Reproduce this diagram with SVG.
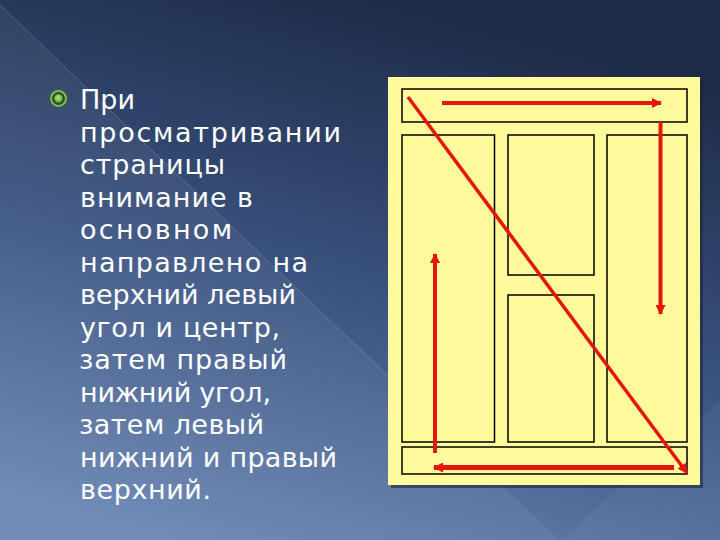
<svg xmlns="http://www.w3.org/2000/svg" width="720" height="540" viewBox="0 0 720 540">
<defs>
<linearGradient id="bg" x1="0.55" y1="0" x2="0.2" y2="1">
<stop offset="0" stop-color="#1E2B47"/>
<stop offset="0.5" stop-color="#3A5380"/>
<stop offset="1" stop-color="#6B87B5"/>
</linearGradient>
<radialGradient id="dot" cx="0.45" cy="0.4" r="0.6">
<stop offset="0" stop-color="#B9F06A"/>
<stop offset="1" stop-color="#5FA52A"/>
</radialGradient>
<marker id="ah" viewBox="0 0 10 10" refX="9" refY="5" markerWidth="12" markerHeight="10" markerUnits="userSpaceOnUse" orient="auto">
<path d="M0,0 L10,5 L0,10 z" fill="#E5160E"/>
</marker>
</defs>
<style>
.txt{font-family:"DejaVu Sans","Liberation Sans",sans-serif;font-size:27px;fill:#FFFFFF}
.box{fill:none;stroke:#000;stroke-width:1.5}
.arr{stroke:#E5160E;stroke-width:4;fill:none;marker-end:url(#ah)}
</style>
<rect x="0" y="0" width="720" height="540" fill="url(#bg)"/>
<polygon points="0,5 560,540 0,540" fill="#FFFFFF" opacity="0.05"/>
<polygon points="560,540 720,400 720,540" fill="#FFFFFF" opacity="0.04"/>
<line x1="0" y1="5" x2="390" y2="378" stroke="#8FA4C8" stroke-width="1" opacity="0.35"/>

<g id="bullet">
<circle cx="58.5" cy="98.5" r="7.5" fill="#2E4A3A" stroke="#7CC242" stroke-width="2"/>
<circle cx="58.5" cy="98.5" r="4.2" fill="url(#dot)"/>
</g>
<g id="text">
<text class="txt" x="80" y="109">При</text>
<text class="txt" x="80" y="141.5" textLength="261" lengthAdjust="spacing">просматривании</text>
<text class="txt" x="80" y="174" textLength="145" lengthAdjust="spacing">страницы</text>
<text class="txt" x="80" y="206.5" textLength="173" lengthAdjust="spacing">внимание в</text>
<text class="txt" x="80" y="239" textLength="152" lengthAdjust="spacing">основном</text>
<text class="txt" x="80" y="271.5" textLength="228" lengthAdjust="spacing">направлено на</text>
<text class="txt" x="80" y="304" textLength="216" lengthAdjust="spacing">верхний левый</text>
<text class="txt" x="80" y="336.5" textLength="200" lengthAdjust="spacing">угол и центр,</text>
<text class="txt" x="79" y="369" textLength="208" lengthAdjust="spacing">затем правый</text>
<text class="txt" x="80" y="401.5" textLength="191" lengthAdjust="spacing">нижний угол,</text>
<text class="txt" x="79" y="434" textLength="185" lengthAdjust="spacing">затем левый</text>
<text class="txt" x="80" y="466.5" textLength="257" lengthAdjust="spacing">нижний и правый</text>
<text class="txt" x="80" y="499" textLength="131" lengthAdjust="spacing">верхний.</text>
</g>

<g id="page">
<rect x="391" y="80" width="312" height="408" fill="#1A2438" opacity="0.6"/>
<rect x="388" y="77" width="312" height="408" fill="#FFFA9C"/>
</g>
<g id="header"><rect class="box" x="402" y="89" width="285" height="33"/></g>
<g id="col-left"><rect class="box" x="402" y="135" width="92.5" height="307"/></g>
<g id="col-mid-top"><rect class="box" x="508" y="135" width="86" height="140"/></g>
<g id="col-mid-bottom"><rect class="box" x="508" y="295" width="86" height="147"/></g>
<g id="col-right"><rect class="box" x="607" y="135" width="80" height="307"/></g>
<g id="footer"><rect class="box" x="402" y="447" width="285" height="27"/></g>

<g id="connectors">
<line class="arr" x1="442" y1="103" x2="661" y2="103"/>
<line class="arr" x1="660.5" y1="122" x2="660.5" y2="314"/>
<line class="arr" x1="408" y1="97" x2="687" y2="473" style="stroke-width:3.5"/>
<line class="arr" x1="674" y1="467.5" x2="434" y2="467.5" style="stroke-width:5"/>
<line class="arr" x1="435" y1="453" x2="435" y2="254"/>
</g>
</svg>
